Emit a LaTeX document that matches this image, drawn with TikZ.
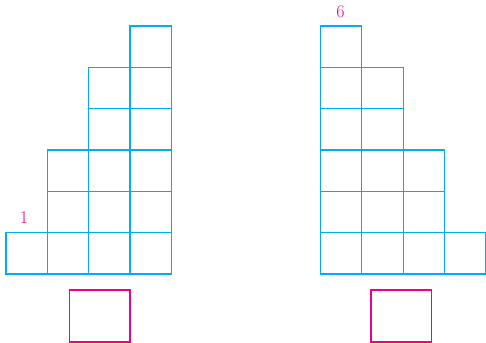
\documentclass[tikz,border=0pt]{standalone}
\definecolor{gridblue}{RGB}{0,174,239}
\definecolor{markpink}{RGB}{236,0,140}
\tikzset{
  cell/.style={draw=gridblue, line width=1.1pt},
  answerbox/.style={draw=markpink, line width=1.2pt},
  numlabel/.style={text=markpink, font=\fontsize{18}{20}\selectfont, inner sep=0pt}
}
\begin{document}
\begin{tikzpicture}[x=1pt,y=1pt]
\useasboundingbox (0,0) rectangle (486,342);
\def\cs{41.33}
% left staircase: heights 1,3,5,6
\foreach \c/\h in {0/1,1/3,2/5,3/6}{
  \foreach \r in {1,...,\h}{
    \draw[cell] ({6+\c*\cs},{68+(\r-1)*\cs}) rectangle ++(\cs,\cs);
  }
}
% right staircase: heights 6,5,3,1
\foreach \c/\h in {0/6,1/5,2/3,3/1}{
  \foreach \r in {1,...,\h}{
    \draw[cell] ({320.6+\c*\cs},{68+(\r-1)*\cs}) rectangle ++(\cs,\cs);
  }
}
\node[numlabel] (one) at (24,124.5) {1};
\node[numlabel] (six) at (340.5,330) {6};
\node[answerbox, minimum width=60.5pt, minimum height=52pt, inner sep=0pt] (boxL) at (99.8,26) {};
\node[answerbox, minimum width=60.5pt, minimum height=52pt, inner sep=0pt] (boxR) at (401.3,26) {};
\end{tikzpicture}
\end{document}
